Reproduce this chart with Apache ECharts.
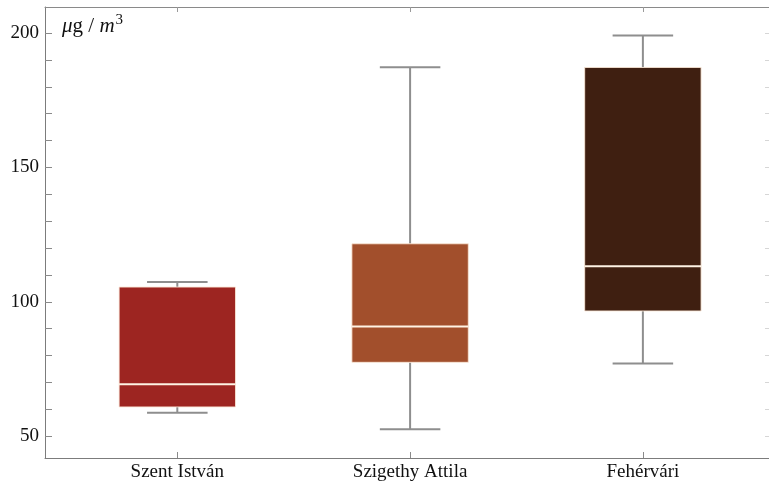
<!DOCTYPE html>
<html>
<head>
<meta charset="utf-8">
<script src="https://cdn.jsdelivr.net/npm/echarts@6/dist/echarts.min.js"></script>
<style>
  html, body { margin: 0; padding: 0; background: #ffffff; }
  #chart { width: 769px; height: 487px; }
</style>
</head>
<body>
<div id="chart"></div>
<script>
// Monitoring sites and their PM concentration summaries (µg/m³)
const categories = ['Szent István', 'Szigethy Attila', 'Fehérvári'];
const positions = [1, 2, 3];
const lowWhisker = [58.7, 52.6, 77.1];
const lowerQuartile = [60.9, 77.5, 96.6];
const medianValues = [69.3, 90.8, 113.2];
const upperQuartile = [105.5, 121.6, 187.2];
const highWhisker = [107.4, 187.3, 199.1];

// Axis tick labels
const yLabelValues = [50, 100, 150, 200];
const yTickValues = [50, 60, 70, 80, 90, 100, 110, 120, 130, 140, 150, 160, 170, 180, 190, 200];

const boxColors = ['#9d2521', '#a24f2c', '#3f1f11'];
const FONT = '"Liberation Serif", "Times New Roman", serif';
const TEXT_COLOR = '#111111';
const BOX_WIDTH = 0.5;   // in x-axis units
const CAP_WIDTH = 0.26;  // in x-axis units

const X_MIN = 0.4316, X_MAX = 3.5418;
const Y_MIN = 41.9, Y_MAX = 209.7;

const boxData = positions.map((p, i) => [
  p, lowWhisker[i], lowerQuartile[i], medianValues[i], upperQuartile[i], highWhisker[i]
]);

function renderBox(params, api) {
  const x = api.value(0);
  const lo = api.coord([x, api.value(1)]);
  const q1 = api.coord([x, api.value(2)]);
  const med = api.coord([x, api.value(3)]);
  const q3 = api.coord([x, api.value(4)]);
  const hi = api.coord([x, api.value(5)]);
  const halfBox = api.size([BOX_WIDTH, 0])[0] / 2;
  const halfCap = api.size([CAP_WIDTH, 0])[0] / 2;
  const cx = lo[0];
  const whisker = { stroke: '#8e8e8e', lineWidth: 2 };
  return {
    type: 'group',
    children: [
      { type: 'line', shape: { x1: cx, y1: hi[1], x2: cx, y2: q3[1] }, style: whisker },
      { type: 'line', shape: { x1: cx, y1: q1[1], x2: cx, y2: lo[1] }, style: whisker },
      { type: 'line', shape: { x1: cx - halfCap, y1: hi[1], x2: cx + halfCap, y2: hi[1] }, style: whisker },
      { type: 'line', shape: { x1: cx - halfCap, y1: lo[1], x2: cx + halfCap, y2: lo[1] }, style: whisker },
      {
        type: 'rect',
        shape: { x: cx - halfBox, y: q3[1], width: halfBox * 2, height: q1[1] - q3[1] },
        style: { fill: boxColors[params.dataIndex], stroke: 'rgba(250,232,215,0.85)', lineWidth: 1 }
      },
      {
        type: 'line',
        shape: { x1: cx - halfBox, y1: med[1], x2: cx + halfBox, y2: med[1] },
        style: { stroke: '#fff3e4', lineWidth: 2 }
      }
    ]
  };
}

const chart = echarts.init(document.getElementById('chart'), null, { renderer: 'canvas' });
chart.setOption({
  backgroundColor: '#ffffff',
  animation: false,
  title: {
    text: '{i|μ}g / {i|m}{s|3}',
    left: 57,
    top: 8,
    textStyle: {
      fontFamily: FONT,
      fontSize: 21,
      fontWeight: 'normal',
      color: TEXT_COLOR,
      rich: {
        i: { fontFamily: FONT, fontSize: 21, fontStyle: 'italic', color: TEXT_COLOR },
        s: { fontFamily: FONT, fontSize: 15, color: TEXT_COLOR, verticalAlign: 'top', padding: [0, 0, 12, 1] }
      }
    }
  },
  grid: { left: 45, right: -1, top: 7, bottom: 29, containLabel: false },
  xAxis: [
    {
      type: 'value',
      position: 'bottom',
      min: X_MIN,
      max: X_MAX,
      splitLine: { show: false },
      axisLine: { show: true, lineStyle: { color: '#7c7c7c', width: 1 } },
      axisTick: { show: true, inside: true, length: 6, customValues: positions, lineStyle: { color: '#8a8a8a' } },
      axisLabel: {
        customValues: positions,
        formatter: (v) => categories[Math.round(v) - 1] || '',
        fontFamily: FONT,
        fontSize: 19,
        color: TEXT_COLOR,
        margin: 5
      }
    },
    {
      type: 'value',
      position: 'top',
      min: X_MIN,
      max: X_MAX,
      splitLine: { show: false },
      axisLine: { show: true, lineStyle: { color: '#8a8a8a', width: 1 } },
      axisTick: { show: true, inside: true, length: 5, customValues: positions, lineStyle: { color: '#9a9a9a' } },
      axisLabel: { show: false }
    }
  ],
  yAxis: [
    {
      type: 'value',
      position: 'left',
      min: Y_MIN,
      max: Y_MAX,
      splitLine: { show: false },
      axisLine: { show: true, lineStyle: { color: '#7c7c7c', width: 1 } },
      axisTick: { show: true, inside: true, length: 7, customValues: yTickValues, lineStyle: { color: '#8a8a8a' } },
      axisLabel: {
        customValues: yLabelValues,
        fontFamily: FONT,
        fontSize: 19,
        color: TEXT_COLOR,
        margin: 6
      }
    },
    {
      type: 'value',
      position: 'right',
      min: Y_MIN,
      max: Y_MAX,
      splitLine: { show: false },
      axisLine: { show: false },
      axisTick: { show: true, inside: true, length: 4, customValues: yTickValues, lineStyle: { color: '#d6d6d6' } },
      axisLabel: { show: false }
    }
  ],
  series: [
    {
      type: 'custom',
      xAxisIndex: 0,
      yAxisIndex: 0,
      clip: false,
      renderItem: renderBox,
      encode: { x: 0, y: [1, 2, 3, 4, 5] },
      data: boxData
    }
  ]
});
</script>
</body>
</html>
